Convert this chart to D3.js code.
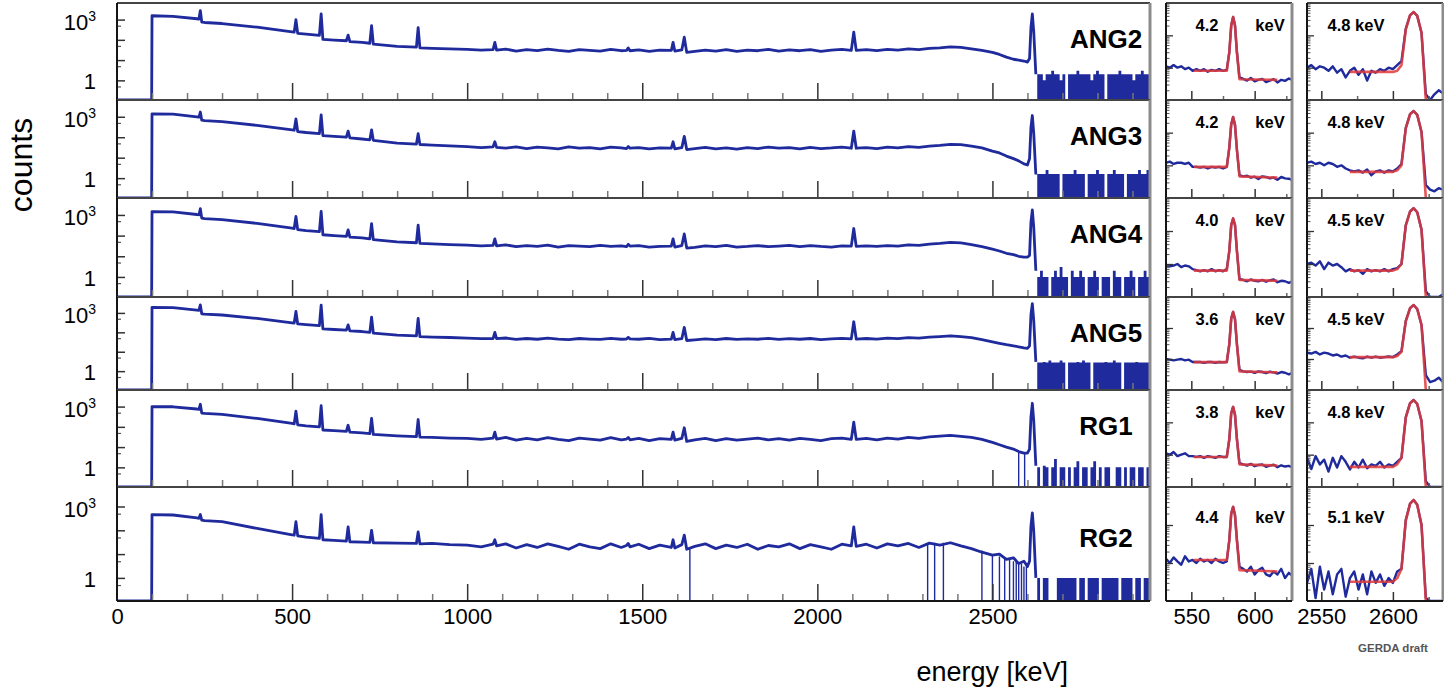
<!DOCTYPE html>
<html>
<head>
<meta charset="utf-8">
<script src="https://cdn.jsdelivr.net/npm/d3@7"></script>
<style>
  body { margin: 0; background: #fff; }
  svg text { font-family: "Liberation Sans", Arial, Helvetica, sans-serif; }
</style>
</head>
<body>
<script>
// detectors, top to bottom
const detectors = ['ANG2', 'ANG3', 'ANG4', 'ANG5', 'RG1', 'RG2']
const fwhm583 = ['4.2', '4.2', '4.0', '3.6', '3.8', '4.4']
const fwhm2614 = ['4.8', '4.8', '4.5', '4.5', '4.8', '5.1']

// full spectrum (keV / counts)
const energy = [
  0, 99, 100, 160, 228, 234, 238, 242, 250, 300,
  400, 500, 506, 511, 516, 540, 578, 583, 588, 620,
  655, 660, 665, 700, 722, 727, 732, 800, 855, 860,
  865, 900, 950, 1000, 1040, 1074, 1079, 1084, 1110, 1140,
  1170, 1200, 1230, 1260, 1290, 1320, 1350, 1380, 1410, 1440,
  1455, 1460, 1465, 1490, 1520, 1550, 1583, 1588, 1593, 1613,
  1620, 1627, 1650, 1680, 1710, 1740, 1770, 1800, 1830, 1860,
  1890, 1920, 1950, 1980, 2010, 2040, 2070, 2097, 2104, 2111,
  2140, 2170, 2200, 2230, 2260, 2290, 2320, 2350, 2380, 2410,
  2440, 2470, 2500, 2520, 2540, 2560, 2575, 2590, 2600, 2606,
  2610, 2614, 2618, 2624
]
const countsANG2 = [
  0, 0, 1550, 1450, 1100, 1060, 2800, 760, 720, 640,
  420, 250, 240, 1000, 210, 190, 165, 1900, 105, 98,
  90, 170, 82, 75, 68, 500, 62, 48, 44, 400,
  40, 38, 36, 34, 31, 33, 75, 31, 35, 28,
  33, 29, 35, 30, 27, 33, 30, 28, 34, 29,
  30, 40, 29, 32, 27, 31, 30, 75, 28, 32,
  135, 24, 27, 31, 28, 33, 27, 31, 29, 34,
  28, 32, 29, 33, 27, 31, 34, 30, 240, 30,
  33, 29, 34, 31, 36, 33, 38, 40, 45, 42,
  36, 30, 24, 19, 14, 11, 10, 9, 8, 12,
  400, 1900, 250, 2
]
const countsANG3 = [
  0, 0, 1400, 1350, 1000, 950, 1700, 680, 650, 580,
  380, 228, 220, 790, 190, 170, 150, 1240, 120, 110,
  100, 200, 92, 82, 75, 230, 70, 52, 46, 150,
  44, 41, 38, 35, 31, 34, 60, 32, 29, 34,
  28, 33, 30, 27, 34, 29, 31, 27, 33, 30,
  28, 35, 29, 31, 27, 30, 29, 60, 27, 31,
  110, 25, 28, 32, 27, 30, 26, 31, 28, 33,
  29, 31, 27, 32, 28, 30, 33, 29, 200, 29,
  31, 28, 33, 30, 35, 32, 37, 40, 45, 43,
  37, 30, 21, 17, 12, 9, 7, 5, 4.4, 9,
  300, 1150, 150, 1.5
]
const countsANG4 = [
  0, 0, 1450, 1400, 1050, 1000, 2000, 700, 670, 600,
  390, 228, 220, 850, 195, 175, 155, 1500, 110, 100,
  92, 190, 85, 78, 70, 380, 64, 50, 45, 320,
  42, 40, 37, 35, 32, 34, 70, 32, 36, 29,
  33, 30, 35, 28, 33, 31, 29, 34, 30, 32,
  29, 38, 31, 33, 28, 30, 31, 70, 28, 33,
  120, 25, 27, 32, 29, 34, 28, 30, 33, 29,
  31, 34, 29, 33, 30, 28, 32, 31, 220, 30,
  32, 30, 33, 31, 36, 34, 39, 42, 47, 44,
  37, 29, 22, 18, 14, 12, 10, 9, 9, 11,
  450, 1750, 250, 2
]
const countsANG5 = [
  0, 0, 1900, 1850, 1400, 1350, 2600, 900, 860, 780,
  520, 310, 300, 1200, 270, 250, 220, 2500, 150, 140,
  130, 240, 120, 110, 100, 600, 92, 72, 65, 520,
  60, 57, 54, 50, 47, 48, 100, 47, 51, 43,
  48, 44, 50, 45, 42, 48, 45, 43, 49, 44,
  45, 55, 46, 44, 49, 42, 45, 100, 42, 47,
  180, 38, 41, 46, 42, 48, 43, 46, 44, 49,
  43, 47, 44, 48, 42, 46, 49, 46, 350, 45,
  48, 45, 50, 47, 53, 50, 56, 60, 65, 60,
  54, 42, 32, 27, 23, 20, 18, 16, 15, 20,
  800, 3000, 400, 3
]
const countsRG1 = [
  0, 0, 1000, 980, 760, 720, 1300, 480, 460, 410,
  260, 147, 140, 600, 125, 112, 100, 1100, 70, 65,
  60, 120, 55, 50, 46, 260, 42, 36, 33, 230,
  31, 30, 28, 27, 24, 28, 55, 25, 30, 22,
  27, 23, 29, 24, 21, 28, 25, 22, 29, 23,
  25, 30, 23, 27, 21, 26, 24, 55, 22, 27,
  90, 19, 23, 27, 21, 26, 22, 25, 28, 23,
  26, 22, 27, 24, 21, 26, 28, 24, 170, 24,
  27, 23, 28, 25, 30, 27, 32, 35, 38, 34,
  30, 24, 17, 13, 10, 8, 6, 5, 5, 8,
  300, 1460, 200, 1.2
]
const countsRG2 = [
  0, 0, 460, 440, 330, 320, 460, 270, 255, 230,
  120, 65, 62, 230, 58, 52, 46, 460, 40, 38,
  35, 140, 33, 32, 31, 100, 30, 29, 28, 85,
  27, 28, 25, 24, 20, 26, 40, 22, 27, 18,
  25, 19, 27, 21, 16, 26, 20, 17, 27, 19,
  23, 28, 20, 26, 17, 24, 19, 40, 18, 25,
  63, 16, 21, 27, 17, 24, 19, 26, 16, 23,
  20, 27, 17, 25, 20, 16, 26, 22, 140, 21,
  26, 18, 27, 22, 28, 19, 29, 24, 30, 22,
  17, 12, 9, 10, 6, 7, 4, 5, 3, 5,
  150, 540, 90, 1
]
const spectra = [countsANG2, countsANG3, countsANG4, countsANG5, countsRG1, countsRG2]

// sparse region above the 2614 keV line, 8 keV bins (last entry closes the last bin)
const tailEnergy = [
  2628, 2636, 2644, 2652, 2660, 2668, 2676, 2684, 2692, 2700,
  2708, 2716, 2724, 2732, 2740, 2748, 2756, 2764, 2772, 2780,
  2788, 2796, 2804, 2812, 2820, 2828, 2836, 2844, 2852, 2860,
  2868, 2876, 2884, 2892, 2900, 2908, 2916, 2924, 2932, 2940,
  2948
]
const tailANG2 = [2, 2, 1, 2, 2, 3, 2, 2, 1, 2, 0, 2, 2, 2, 3, 2, 2, 2, 2, 1, 2, 3, 2, 2, 0, 2, 2, 2, 2, 3, 2, 2, 2, 2, 1, 2, 2, 3, 2, 2]
const tailANG3 = [1.6, 1.6, 1.6, 2.5, 1.6, 1.6, 1.6, 1.6, 0, 1.6, 1.6, 1.6, 1.6, 2.5, 1.6, 1.6, 1.6, 0, 1.6, 1.6, 1.6, 2.5, 1.6, 1.6, 0, 1.6, 1.6, 2.5, 1.6, 1.6, 1.6, 0, 1.6, 1.6, 1.6, 1.6, 2.5, 1.6, 1.6, 2.5]
const tailANG4 = [1, 2, 1, 1, 0, 1, 2, 1, 3, 1, 1, 0, 2, 1, 1, 2, 1, 0, 1, 1, 2, 1, 0, 1, 1, 1, 0, 2, 1, 1, 0, 1, 1, 2, 1, 0, 1, 1, 2, 1]
const tailANG5 = [2.8, 2.8, 3, 2.8, 3.5, 2.8, 2.8, 2.8, 3.5, 2.8, 0, 2.8, 2.8, 2.8, 3, 2.8, 3.5, 2.8, 2.8, 0, 2.8, 2.8, 2.8, 2.8, 3, 2.8, 2.8, 3.5, 2.8, 2.8, 0, 2.8, 2.8, 2.8, 2.8, 3, 2.8, 2.8, 2.8, 2.8]
const tailRG1 = [1, 0, 1.2, 1, 0, 1, 2.6, 0, 1, 1, 0, 1, 0, 1, 2, 0, 1, 1, 0, 1, 2, 0, 1, 0, 1, 1, 0, 0, 1, 1, 0, 1, 0, 1, 1, 0, 1, 1, 0, 1]
const tailRG2 = [1, 0, 1, 1, 0, 0, 0, 1, 1, 1, 1, 1, 1, 1, 0, 1, 1, 0, 1, 1, 1, 1, 0, 1, 1, 1, 1, 1, 1, 0, 1, 1, 1, 1, 0, 1, 1, 0, 1, 1]
const tails = [tailANG2, tailANG3, tailANG4, tailANG5, tailRG1, tailRG2]

// empty bins inside the continuum: [keV, level it drops from]
const dropsRG1 = [[2575, 6], [2592, 5]]
const dropsRG2 = [[1636, 20], [2315, 28], [2335, 30], [2360, 30], [2470, 14], [2500, 10], [2520, 8], [2535, 7], [2549, 6], [2560, 5], [2568, 5], [2575, 4], [2583, 4], [2590, 3], [2597, 3]]
const drops = [[], [], [], [], dropsRG1, dropsRG2]

// zoom on the 583 keV line
const energy583 = [
  530, 533, 536, 539, 542, 545, 548, 551, 554, 557,
  560, 563, 566, 569, 572, 575, 578, 580, 581.5, 583,
  584.5, 586, 588, 591, 594, 597, 600, 603, 606, 609,
  612, 615, 618, 621, 624, 627, 630
]
const data583 = [
  [11, 10, 12, 10, 11, 9, 10, 8, 9, 8, 9, 7.5, 8.5, 8, 9, 8, 8.5, 30, 200, 370, 200, 30, 5, 4.5, 4, 4.8, 3.8, 4.2, 4.5, 3.6, 4, 4.4, 3.5, 4.2, 3.9, 4.6, 4.2],
  [12, 13, 11, 12, 12, 11, 12, 9, 9, 8.5, 9, 8, 9, 8.5, 9, 8, 9, 35, 180, 300, 170, 30, 5, 4.6, 4.8, 4.2, 4.5, 3.8, 4.6, 4.4, 4, 4.2, 3.6, 4.4, 4, 3.9, 3.5],
  [9, 8.5, 9, 10, 8, 9, 8.5, 7, 6.5, 6, 6.5, 6, 7, 6, 6.5, 6, 7, 25, 150, 240, 150, 25, 3.5, 3.3, 3, 3.4, 3.1, 3, 3.3, 2.9, 3.2, 3.4, 2.8, 3.1, 3, 2.7, 3],
  [10, 9.5, 9, 9.5, 10, 9, 9.5, 8, 8, 8, 7.5, 8, 8, 7.5, 8, 7.8, 8, 30, 200, 330, 190, 30, 4.5, 4, 3.8, 3.9, 3.6, 4, 3.8, 3.5, 3.9, 3.7, 3.4, 3.8, 3.6, 3.2, 3.6],
  [11, 10, 12, 9, 10, 11, 9, 9, 8.5, 9, 8, 9, 8.5, 8, 9, 8.5, 8.5, 30, 190, 300, 170, 30, 5.5, 5, 4.6, 5.2, 4.4, 4.8, 5, 4.2, 4.6, 4.9, 4.1, 4.7, 4.3, 4.5, 4],
  [13, 10, 14, 11, 9, 15, 11, 12, 10, 13, 11, 12, 10, 13, 11, 10, 11, 40, 200, 300, 180, 40, 8, 7, 6, 8, 5, 6.5, 7.5, 5, 4.5, 6, 5, 7, 4, 5.5, 4.5]
]
const fitEnergy583 = [552, 578, 580, 581.5, 583, 584.5, 586, 588, 618]
const fit583 = [
  [8, 8, 30, 200, 370, 200, 30, 4.4, 4.2],
  [9, 9, 35, 180, 300, 170, 30, 4.6, 4.2],
  [6.3, 6.3, 25, 150, 240, 150, 25, 3.3, 3.1],
  [7.9, 7.9, 30, 200, 330, 190, 30, 4, 3.7],
  [8.5, 8.5, 30, 190, 300, 170, 30, 5, 4.6],
  [12, 12, 40, 200, 300, 180, 40, 6.5, 6]
]

// zoom on the 2614 keV line
const energy2614 = [
  2540, 2543, 2546, 2549, 2552, 2555, 2558, 2561, 2564, 2567,
  2570, 2573, 2576, 2579, 2582, 2585, 2588, 2591, 2594, 2597,
  2600, 2603, 2606, 2609, 2612, 2614.5, 2617, 2620, 2623, 2626,
  2629, 2632, 2635
]
const data2614 = [
  [10, 12, 9, 11, 10, 8, 11, 7, 9, 5, 8, 10, 6, 9, 4, 8, 7, 9, 8, 10, 9, 12, 16, 160, 420, 525, 400, 120, 1.5, 0.5, 1.5, 2, 1.6],
  [12, 13, 11, 12, 10, 12, 11, 9, 10, 8, 7, 6.5, 7, 6, 7.5, 5, 6.5, 7, 6, 7, 6.5, 8, 11, 140, 370, 460, 350, 105, 2.5, 1.8, 1.6, 2, 1.8],
  [10, 11, 9, 12, 7, 11, 9, 10, 8, 6, 7, 6, 6.5, 5, 7, 6, 6.5, 6, 7, 6, 7, 7.5, 10, 150, 390, 490, 370, 110, 1.5, 0.8, 1, 0.8, 1.2],
  [16, 15, 17, 14, 16, 15, 13, 14, 12, 13, 11, 12, 11, 10.5, 12, 11, 12, 11, 11.5, 12, 11.5, 14, 18, 170, 440, 550, 410, 125, 3, 1.8, 2, 2.5, 1.8],
  [8, 3.6, 9, 5, 7, 3, 8, 4, 9, 6, 3.5, 6, 4, 7, 3.8, 5, 4.5, 6, 4, 5, 4.5, 6, 8, 145, 390, 490, 370, 110, 1.5, 0.6, 0.8, 1, 0.7],
  [3, 7, 1.2, 8, 2, 6, 1.5, 5, 7, 1.3, 4, 6, 2, 5, 1.5, 6, 3, 5, 2.5, 4, 3, 6, 7, 135, 365, 455, 340, 100, 1.2, 0.6, 0.5, 1, 0.6]
]
const fitEnergy2614 = [2570, 2600, 2603, 2606, 2609, 2612, 2614.5, 2617, 2620, 2623]
const fit2614 = [
  [7.4, 7.4, 8, 12, 150, 420, 525, 400, 120, 0.8],
  [6.3, 6.3, 7, 10, 135, 370, 460, 350, 105, 0.8],
  [6.3, 6.3, 7, 10, 145, 390, 490, 370, 110, 0.8],
  [11.5, 11.5, 12.5, 17, 165, 440, 550, 410, 125, 0.8],
  [4.2, 4.2, 5, 8, 140, 390, 490, 370, 110, 0.8],
  [3.2, 3.2, 4, 7, 130, 365, 455, 340, 100, 0.8]
]

// ---- layout
const width = 1444, height = 689
const panelEdges = [3, 100, 198, 297, 390, 487, 601]
const blue = '#1f2a9c', red = '#e0393a'

const svg = d3.select('body').append('svg')
    .attr('width', width)
    .attr('height', height)

const x = d3.scaleLinear().domain([0, 2950]).range([117, 1150])
const x583 = d3.scaleLinear().domain([530, 629.5]).range([1166, 1292])
const x2614 = d3.scaleLinear().domain([2540, 2635]).range([1307, 1443])

const frame = (g, left, right, top, bottom) => {
  g.append('line').attr('x1', left).attr('x2', right).attr('y1', top).attr('y2', top)
    .attr('stroke', '#444').attr('stroke-width', 2)
  g.append('line').attr('x1', right).attr('x2', right).attr('y1', top).attr('y2', bottom)
    .attr('stroke', '#8c8c8c').attr('stroke-width', 3)
  g.append('line').attr('x1', left).attr('x2', left).attr('y1', top).attr('y2', bottom)
    .attr('stroke', '#151515').attr('stroke-width', 2)
  g.append('line').attr('x1', left).attr('x2', right).attr('y1', bottom).attr('y2', bottom)
    .attr('stroke', '#151515').attr('stroke-width', 2)
}

const styleTicks = (color, w) => a => {
  a.select('.domain').remove()
  a.selectAll('line').attr('stroke', color).attr('stroke-width', w)
}

const drawZoom = (g, id, xs, y, top, bottom, dataE, dataC, fitE, fitC, major, minor) => {
  const [left, right] = xs.range()
  g.append('clipPath').attr('id', id).append('rect')
    .attr('x', left).attr('y', top).attr('width', right - left).attr('height', bottom - top)
  const plot = g.append('g').attr('clip-path', `url(#${id})`)
  plot.append('path')
    .datum(d3.zip(dataE, dataC))
    .attr('d', d3.line().x(d => xs(d[0])).y(d => y(d[1])))
    .attr('fill', 'none').attr('stroke', blue).attr('stroke-width', 2.4)
    .attr('stroke-linejoin', 'round')
  plot.append('path')
    .datum(d3.zip(fitE, fitC))
    .attr('d', d3.line().x(d => xs(d[0])).y(d => y(d[1])))
    .attr('fill', 'none').attr('stroke', red).attr('stroke-width', 2.6)
    .attr('stroke-opacity', 0.85).attr('stroke-linejoin', 'round')

  g.append('g').attr('transform', `translate(0,${bottom})`)
    .call(d3.axisBottom(xs).tickValues(major).tickSize(-9).tickFormat(''))
    .call(styleTicks('#333', 1.5))
  g.append('g').attr('transform', `translate(0,${bottom})`)
    .call(d3.axisBottom(xs).tickValues(minor).tickSize(-4).tickFormat(''))
    .call(styleTicks('#666', 1.5))
  const decades = [10, 100]
  g.append('g').attr('transform', `translate(${left},0)`)
    .call(d3.axisLeft(y).tickValues(decades).tickSize(-7).tickFormat(''))
    .call(styleTicks('#333', 1.3))
  g.append('g').attr('transform', `translate(${left},0)`)
    .call(d3.axisLeft(y).tickValues(y.ticks().filter(v => !decades.includes(v) && v > 1 && v < 1000)).tickSize(-3.5).tickFormat(''))
    .call(styleTicks('#555', 1))
  frame(g, left, right, top, bottom)
}

detectors.forEach((name, i) => {
  const top = panelEdges[i], bottom = panelEdges[i + 1]
  const y = d3.scaleLog().domain([0.107, 6600]).range([bottom, top]).clamp(true)
  const ys = d3.scaleLog().domain([1, 1000]).range([bottom, top]).clamp(true)
  const g = svg.append('g')

  // main spectrum
  g.append('clipPath').attr('id', 'cm' + i).append('rect')
    .attr('x', 117).attr('y', top).attr('width', 1033).attr('height', bottom - top)
  const plot = g.append('g').attr('clip-path', `url(#cm${i})`)

  // tail drawn as one stepped area so neighbouring bins join up
  const tail = tailEnergy.map((e, k) => [e, k < tails[i].length ? tails[i][k] : 0])
  plot.append('path')
    .datum(tail)
    .attr('d', d3.area()
      .curve(d3.curveStepAfter)
      .x(d => x(d[0]))
      .y0(bottom)
      .y1(d => y(d[1])))
    .attr('fill', blue)

  plot.selectAll('line.drop')
    .data(drops[i])
    .enter().append('line')
    .attr('class', 'drop')
    .attr('x1', d => x(d[0])).attr('x2', d => x(d[0]))
    .attr('y1', d => y(d[1])).attr('y2', bottom)
    .attr('stroke', blue).attr('stroke-width', 1.4)

  plot.append('path')
    .datum(d3.zip(energy, spectra[i]))
    .attr('d', d3.line().x(d => x(d[0])).y(d => y(d[1])))
    .attr('fill', 'none')
    .attr('stroke', blue)
    .attr('stroke-width', 2.8)
    .attr('stroke-linejoin', 'round')

  // ticks
  g.append('g').attr('transform', `translate(0,${bottom})`)
    .call(d3.axisBottom(x).tickValues(d3.range(100, 2950, 100).filter(v => v % 500)).tickSize(-7).tickFormat(''))
    .call(styleTicks('#777', 1.5))
  g.append('g').attr('transform', `translate(0,${bottom})`)
    .call(d3.axisBottom(x).tickValues([500, 1000, 1500, 2000, 2500]).tickSize(-17).tickFormat(''))
    .call(styleTicks('#333', 1.5))
  g.append('g').attr('transform', 'translate(117,0)')
    .call(d3.axisLeft(y).tickValues([1, 10, 100, 1000]).tickSize(-8).tickFormat(''))
    .call(styleTicks('#333', 1.5))
  g.append('g').attr('transform', 'translate(117,0)')
    .call(d3.axisLeft(y).tickValues([0.5, 5, 50, 500]).tickSize(-4).tickFormat(''))
    .call(styleTicks('#555', 1.2))
  frame(g, 117, 1150, top, bottom)

  const lab = g.append('text')
    .attr('x', 96).attr('y', y(1000) + 10)
    .attr('text-anchor', 'end').attr('font-size', 22)
  lab.append('tspan').text('10')
  lab.append('tspan').attr('font-size', 14).attr('dy', -9).text('3')
  g.append('text')
    .attr('x', 96).attr('y', y(1) + 9)
    .attr('text-anchor', 'end').attr('font-size', 22)
    .text('1')

  g.append('text')
    .attr('x', 1106).attr('y', top + (i === 5 ? 51 : 36))
    .attr('dy', '0.36em')
    .attr('text-anchor', 'middle')
    .attr('font-size', 26).attr('font-weight', 'bold')
    .text(name)

  // zoom panels
  drawZoom(g, 'ca' + i, x583, ys, top, bottom, energy583, data583[i], fitEnergy583, fit583[i], [550, 600], [575, 625])
  drawZoom(g, 'cb' + i, x2614, ys, top, bottom, energy2614, data2614[i], fitEnergy2614, fit2614[i], [2550, 2600], [2575, 2625])

  const ly = top + (i === 5 ? 30 : 22)
  g.append('text').attr('x', 1207).attr('y', ly).attr('dy', '0.36em')
    .attr('text-anchor', 'middle').attr('font-size', 16.5).attr('font-weight', 'bold')
    .text(fwhm583[i])
  g.append('text').attr('x', 1270).attr('y', ly).attr('dy', '0.36em')
    .attr('text-anchor', 'middle').attr('font-size', 16.5).attr('font-weight', 'bold')
    .text('keV')
  g.append('text').attr('x', 1356).attr('y', ly).attr('dy', '0.36em')
    .attr('text-anchor', 'middle').attr('font-size', 16.5).attr('font-weight', 'bold')
    .text(fwhm2614[i] + ' keV')
})

// x axes with labels
const bottomEdge = panelEdges[panelEdges.length - 1]
const labelAxis = (scale, values) => {
  svg.append('g').attr('transform', `translate(0,${bottomEdge})`)
    .call(d3.axisBottom(scale).tickValues(values).tickSize(0).tickPadding(7).tickFormat(d3.format('d')))
    .call(a => a.select('.domain').remove())
    .call(a => a.selectAll('text').attr('font-size', 22).attr('fill', '#000'))
}
labelAxis(x, [0, 500, 1000, 1500, 2000, 2500])
labelAxis(x583, [550, 600])
labelAxis(x2614, [2550, 2600])

svg.append('text')
    .attr('x', 1068).attr('y', 681)
    .attr('text-anchor', 'end').attr('font-size', 27)
    .text('energy [keV]')

svg.append('text')
    .attr('transform', 'translate(32,165) rotate(-90)')
    .attr('text-anchor', 'middle').attr('font-size', 32)
    .text('counts')

svg.append('text')
    .attr('x', 1393).attr('y', 652)
    .attr('text-anchor', 'middle').attr('font-size', 11.5).attr('font-weight', 'bold')
    .attr('fill', '#555')
    .text('GERDA draft')
</script>
</body>
</html>
